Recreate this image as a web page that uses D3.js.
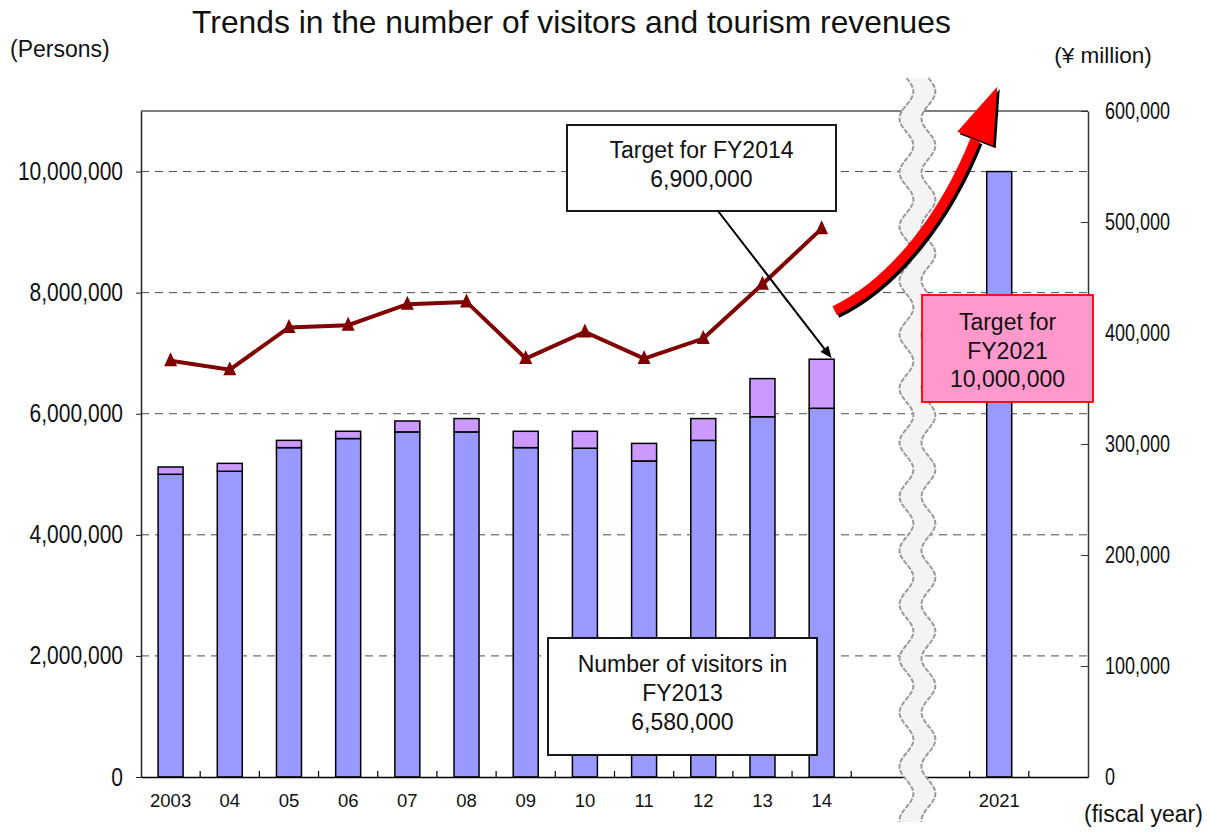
<!DOCTYPE html>
<html lang="en">
<head>
<meta charset="utf-8">
<title>Trends in the number of visitors and tourism revenues</title>
<script src="https://cdn.jsdelivr.net/npm/d3@7"></script>
<style>
    html, body { margin: 0; padding: 0; background: #ffffff; }
    svg { display: block; font-family: 'Liberation Sans', Arial, sans-serif; }
</style>
</head>
<body>
<div id="chart"></div>
<script>
// Visitors (persons) by fiscal year, split in two stacked parts, and tourism revenue (¥ million)
const fiscalYears = ['2003', '04', '05', '06', '07', '08', '09', '10', '11', '12', '13', '14'];
const domesticVisitors = [5000000, 5050000, 5440000, 5590000, 5700000, 5700000, 5440000, 5430000, 5220000, 5560000, 5950000, 6090000];
const foreignVisitors = [120000, 130000, 120000, 120000, 180000, 220000, 270000, 280000, 290000, 360000, 630000, 810000];
const tourismRevenue = [375000, 367000, 405000, 407000, 426000, 428000, 377000, 401000, 377000, 395000, 444000, 494000];
const targetYear = '2021';
const targetVisitors = 10000000;
const xSlots = [...fiscalYears, 'gap-a', 'gap-b', targetYear, 'gap-c'];
const visitorTicks = [0, 2000000, 4000000, 6000000, 8000000, 10000000];
const revenueTicks = [0, 100000, 200000, 300000, 400000, 500000, 600000];

const width = 1207;
const height = 835;
const plot = { left: 141, right: 1088, top: 111, bottom: 777 };

const colors = {
    lower: '#9999ff',
    upper: '#cc99ff',
    revenue: '#800000',
    grid: '#4d4d4d',
    arrow: '#ff0000',
    targetBox: '#ff99cc'
};

const svg = d3.select('#chart')
    .append('svg')
    .attr('width', width)
    .attr('height', height);

const xScale = d3.scaleBand()
    .domain(xSlots)
    .range([plot.left, plot.right])
    .padding(0);

const xCenter = (slot) => xScale(slot) + xScale.bandwidth() / 2;
const barWidth = 25;

const yVisitors = d3.scaleLinear()
    .domain([0, 11000000])
    .range([plot.bottom, plot.top]);

const yRevenue = d3.scaleLinear()
    .domain([0, 600000])
    .range([plot.bottom, plot.top]);

// gridlines
svg.append('g')
    .selectAll('line')
    .data(visitorTicks.filter((value) => value > 0))
    .join('line')
    .attr('x1', plot.left)
    .attr('x2', plot.right)
    .attr('y1', (value) => yVisitors(value))
    .attr('y2', (value) => yVisitors(value))
    .attr('stroke', colors.grid)
    .attr('stroke-width', 1)
    .attr('stroke-dasharray', '8,6');

// top frame
svg.append('line')
    .attr('x1', plot.left)
    .attr('x2', plot.right)
    .attr('y1', plot.top)
    .attr('y2', plot.top)
    .attr('stroke', '#7f7f7f')
    .attr('stroke-width', 2);

// stacked bars
const barData = fiscalYears.map((year, index) => ({
    year,
    lower: domesticVisitors[index],
    total: domesticVisitors[index] + foreignVisitors[index]
}));

const barGroup = svg.append('g');

barGroup.selectAll('.bar-lower')
    .data(barData)
    .join('rect')
    .attr('class', 'bar-lower')
    .attr('x', (datum) => xCenter(datum.year) - barWidth / 2)
    .attr('y', (datum) => yVisitors(datum.lower))
    .attr('width', barWidth)
    .attr('height', (datum) => yVisitors(0) - yVisitors(datum.lower))
    .attr('fill', colors.lower)
    .attr('stroke', '#000')
    .attr('stroke-width', 1.5);

barGroup.selectAll('.bar-upper')
    .data(barData)
    .join('rect')
    .attr('class', 'bar-upper')
    .attr('x', (datum) => xCenter(datum.year) - barWidth / 2)
    .attr('y', (datum) => yVisitors(datum.total))
    .attr('width', barWidth)
    .attr('height', (datum) => yVisitors(datum.lower) - yVisitors(datum.total))
    .attr('fill', colors.upper)
    .attr('stroke', '#000')
    .attr('stroke-width', 1.5);

barGroup.append('rect')
    .attr('x', xCenter(targetYear) - barWidth / 2)
    .attr('y', yVisitors(targetVisitors))
    .attr('width', barWidth)
    .attr('height', yVisitors(0) - yVisitors(targetVisitors))
    .attr('fill', colors.lower)
    .attr('stroke', '#000')
    .attr('stroke-width', 1.5);

// revenue line
const revenueLine = d3.line()
    .x((value, index) => xCenter(fiscalYears[index]))
    .y((value) => yRevenue(value));

svg.append('path')
    .datum(tourismRevenue)
    .attr('d', revenueLine)
    .attr('fill', 'none')
    .attr('stroke', colors.revenue)
    .attr('stroke-width', 4)
    .attr('stroke-linejoin', 'miter');

svg.append('g')
    .selectAll('path')
    .data(tourismRevenue)
    .join('path')
    .attr('transform', (value, index) => `translate(${xCenter(fiscalYears[index])},${yRevenue(value)})`)
    .attr('d', 'M0,-8.5L6.5,5.5L-6.5,5.5Z')
    .attr('fill', colors.revenue);

// axes
svg.append('g')
    .attr('transform', `translate(${plot.left},0)`)
    .call(d3.axisLeft(yVisitors).tickValues(visitorTicks).tickFormat(d3.format(',')).tickSize(5).tickSizeOuter(0).tickPadding(13))
    .call((group) => group.select('.domain').attr('stroke', '#222').attr('stroke-width', 1.5))
    .call((group) => group.selectAll('.tick line').attr('stroke', '#222'))
    .call((group) => group.selectAll('text')
        .attr('fill', '#111')
        .attr('font-size', 21)
        .attr('font-family', null)
        .attr('transform', 'scale(1,1.2)'));

svg.append('g')
    .attr('transform', `translate(${plot.right},0)`)
    .call(d3.axisRight(yRevenue).tickValues(revenueTicks).tickFormat(d3.format(',')).tickSize(-7).tickSizeOuter(0).tickPadding(17))
    .call((group) => group.select('.domain').attr('stroke', '#333').attr('stroke-width', 1.5))
    .call((group) => group.selectAll('.tick line').attr('stroke', '#333'))
    .call((group) => group.selectAll('text')
        .attr('fill', '#111')
        .attr('font-size', 18)
        .attr('font-family', null)
        .attr('transform', 'scale(1,1.28)'));

svg.append('g')
    .attr('transform', `translate(0,${plot.bottom})`)
    .call(d3.axisBottom(xScale).tickValues(xSlots.filter((slot) => !slot.startsWith('gap'))).tickSize(0).tickSizeOuter(0).tickPadding(17))
    .call((group) => group.select('.domain').attr('stroke', '#000').attr('stroke-width', 1.5))
    .call((group) => group.selectAll('text')
        .attr('fill', '#111')
        .attr('font-size', 18.5)
        .attr('font-family', null));

// small inward ticks on the band boundaries
svg.append('g')
    .selectAll('line')
    .data(xSlots.slice(1))
    .join('line')
    .attr('x1', (slot) => xScale(slot))
    .attr('x2', (slot) => xScale(slot))
    .attr('y1', plot.bottom)
    .attr('y2', plot.bottom - 6)
    .attr('stroke', '#000')
    .attr('stroke-width', 1.2);

// axis break (wavy band)
const breakCenter = xScale('gap-b') + 7;
const breakTop = 78;
const breakBottom = 822;
const wave = (offset) => d3.range(breakTop, breakBottom + 1, 2)
    .map((y) => [breakCenter + offset + 7 * Math.sin(2 * Math.PI * (y - breakTop) / 54), y]);
const leftWave = wave(-11);
const rightWave = wave(11);

const breakGroup = svg.append('g');
breakGroup.append('path')
    .attr('d', d3.line().curve(d3.curveBasis)([...leftWave, ...rightWave.slice().reverse()]) + 'Z')
    .attr('fill', '#f4f4f4');
[leftWave, rightWave].forEach((points) => {
    breakGroup.append('path')
        .attr('d', d3.line().curve(d3.curveBasis)(points))
        .attr('fill', 'none')
        .attr('stroke', '#9a9a9a')
        .attr('stroke-width', 2)
        .attr('stroke-dasharray', '5,1.5');
});

// red trend arrow towards the FY2021 target
const arrowStart = [xCenter('14') + 13, yVisitors(7700000)];
const arrowTip = [xCenter(targetYear) - 2, yVisitors(11400000)];
const arrowBase = [arrowTip[0] - 22, arrowTip[1] + 53];
const arrowShaft = `M${arrowStart[0]},${arrowStart[1]}C${arrowStart[0] + 60},${arrowStart[1] - 29} ${arrowBase[0] - 30},${arrowBase[1] + 75} ${arrowBase[0]},${arrowBase[1]}`;
const arrowHead = [arrowTip, [arrowTip[0] - 40, arrowTip[1] + 45], [arrowTip[0] - 4, arrowTip[1] + 59]];

[{ dx: 2.5, dy: 2.5, color: '#000' }, { dx: 0, dy: 0, color: colors.arrow }].forEach((layer) => {
    const group = svg.append('g').attr('transform', `translate(${layer.dx},${layer.dy})`);
    group.append('path')
        .attr('d', arrowShaft)
        .attr('fill', 'none')
        .attr('stroke', layer.color)
        .attr('stroke-width', 10);
    group.append('path')
        .attr('d', d3.line()(arrowHead) + 'Z')
        .attr('fill', layer.color);
});

// annotation boxes
function addBox({ x, y, boxWidth, boxHeight, fill, stroke, lines, firstBaseline, lineGap }) {
    const group = svg.append('g');
    group.append('rect')
        .attr('x', x)
        .attr('y', y)
        .attr('width', boxWidth)
        .attr('height', boxHeight)
        .attr('fill', fill)
        .attr('stroke', stroke)
        .attr('stroke-width', 1.8);
    group.selectAll('text')
        .data(lines)
        .join('text')
        .attr('x', x + boxWidth / 2)
        .attr('y', (line, index) => firstBaseline + index * lineGap)
        .attr('text-anchor', 'middle')
        .attr('font-size', 23)
        .attr('fill', '#111')
        .text((line) => line);
}

addBox({
    x: 567, y: 125, boxWidth: 269, boxHeight: 86,
    fill: '#fff', stroke: '#000',
    lines: ['Target for FY2014', '6,900,000'],
    firstBaseline: 158, lineGap: 29
});

// pointer from the FY2014 target box to the top of the FY2014 bar
const pointerEnd = [xCenter('14') + 10, yVisitors(domesticVisitors[11] + foreignVisitors[11]) - 1];
const pointerStart = [718, 211];
const pointerAngle = Math.atan2(pointerEnd[1] - pointerStart[1], pointerEnd[0] - pointerStart[0]);
svg.append('line')
    .attr('x1', pointerStart[0])
    .attr('y1', pointerStart[1])
    .attr('x2', pointerEnd[0] - 8 * Math.cos(pointerAngle))
    .attr('y2', pointerEnd[1] - 8 * Math.sin(pointerAngle))
    .attr('stroke', '#000')
    .attr('stroke-width', 2);
svg.append('path')
    .attr('transform', `translate(${pointerEnd[0]},${pointerEnd[1]}) rotate(${pointerAngle * 180 / Math.PI})`)
    .attr('d', 'M0,0L-12,-5L-12,5Z')
    .attr('fill', '#000');

addBox({
    x: 548, y: 638, boxWidth: 269, boxHeight: 117,
    fill: '#fff', stroke: '#000',
    lines: ['Number of visitors in', 'FY2013', '6,580,000'],
    firstBaseline: 672, lineGap: 29
});

addBox({
    x: 922, y: 295, boxWidth: 171, boxHeight: 107,
    fill: colors.targetBox, stroke: '#ff0000',
    lines: ['Target for', 'FY2021', '10,000,000'],
    firstBaseline: 330, lineGap: 28.5
});

// titles and unit labels
svg.append('text')
    .attr('x', 571.5)
    .attr('y', 33)
    .attr('text-anchor', 'middle')
    .attr('font-size', 31.8)
    .attr('fill', '#111')
    .text('Trends in the number of visitors and tourism revenues');

svg.append('text')
    .attr('x', 10)
    .attr('y', 57)
    .attr('font-size', 23)
    .attr('fill', '#111')
    .text('(Persons)');

svg.append('text')
    .attr('x', 1103)
    .attr('y', 63)
    .attr('text-anchor', 'middle')
    .attr('font-size', 22.5)
    .attr('fill', '#111')
    .text('(¥ million)');

svg.append('text')
    .attr('x', 1084)
    .attr('y', 822)
    .attr('font-size', 23)
    .attr('fill', '#111')
    .text('(fiscal year)');
</script>
</body>
</html>
